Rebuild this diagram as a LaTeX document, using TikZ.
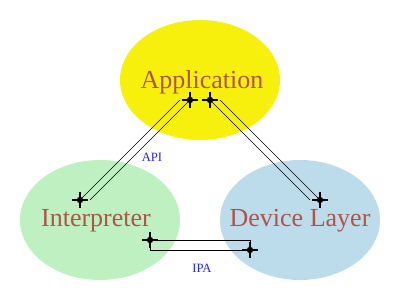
\documentclass[tikz,border=0pt]{standalone}
\usepackage{fontspec}
\setmainfont{Liberation Serif}
\usetikzlibrary{calc}

\definecolor{appyellow}{RGB}{246,240,12}
\definecolor{intgreen}{RGB}{190,240,194}
\definecolor{devblue}{RGB}{188,220,236}
\definecolor{labelred}{RGB}{176,84,72}
\definecolor{linkblue}{RGB}{36,36,236}

\tikzset{
  layer/.style={text=labelred, font=\fontsize{18.5}{20}\selectfont},
  link/.style={line width=0.45pt},
  linklabel/.style={text=linkblue, font=\fontsize{9}{10}\selectfont},
}
% joint: dot with a cross through it
\newcommand{\joint}[1]{%
  \fill (#1) circle (3.2);
  \draw[line width=0.75pt, shift={(#1)}] (-8,0) -- (8,0) (0,-8) -- (0,8);}

\begin{document}
\begin{tikzpicture}[x=0.025cm, y=-0.025cm]
\useasboundingbox (0,0) rectangle (400,300);
% layers
\fill[appyellow] (200,80) ellipse (80 and 60);
\fill[intgreen] (100,220) ellipse (80 and 60);
\fill[devblue] (300,220) ellipse (80 and 60);
\node[layer] (app) at (202,82) {Application};
\node[layer] (int) at (96,221) {Interpreter};
\node[layer] (dev) at (300,221) {Device Layer};
% end points of the links
\coordinate (a1) at (190,100);
\coordinate (a2) at (80,200);
\coordinate (d1) at (210,100);
\coordinate (d2) at (320,200);
\coordinate (i1) at (150,240);
\coordinate (i2) at (250,250);
% API: application -- interpreter
\draw[link] ($(a1)+(-10,0)$) -- (a2);
\draw[link] (a1) -- ($(a2)+(10,0)$);
\node[linklabel] (api) at (152,157) {API};
% application -- device layer
\draw[link] (d1) -- ($(d2)+(-10,0)$);
\draw[link] ($(d1)+(10,0)$) -- (d2);
% IPA: interpreter -- device layer
\draw[link] (i1) -| (i2);
\draw[link] (i1) |- (i2);
\node[linklabel] (ipa) at (202,268) {IPA};
% joints
\joint{a1} \joint{a2} \joint{d1} \joint{d2} \joint{i1} \joint{i2}
\end{tikzpicture}
\end{document}
